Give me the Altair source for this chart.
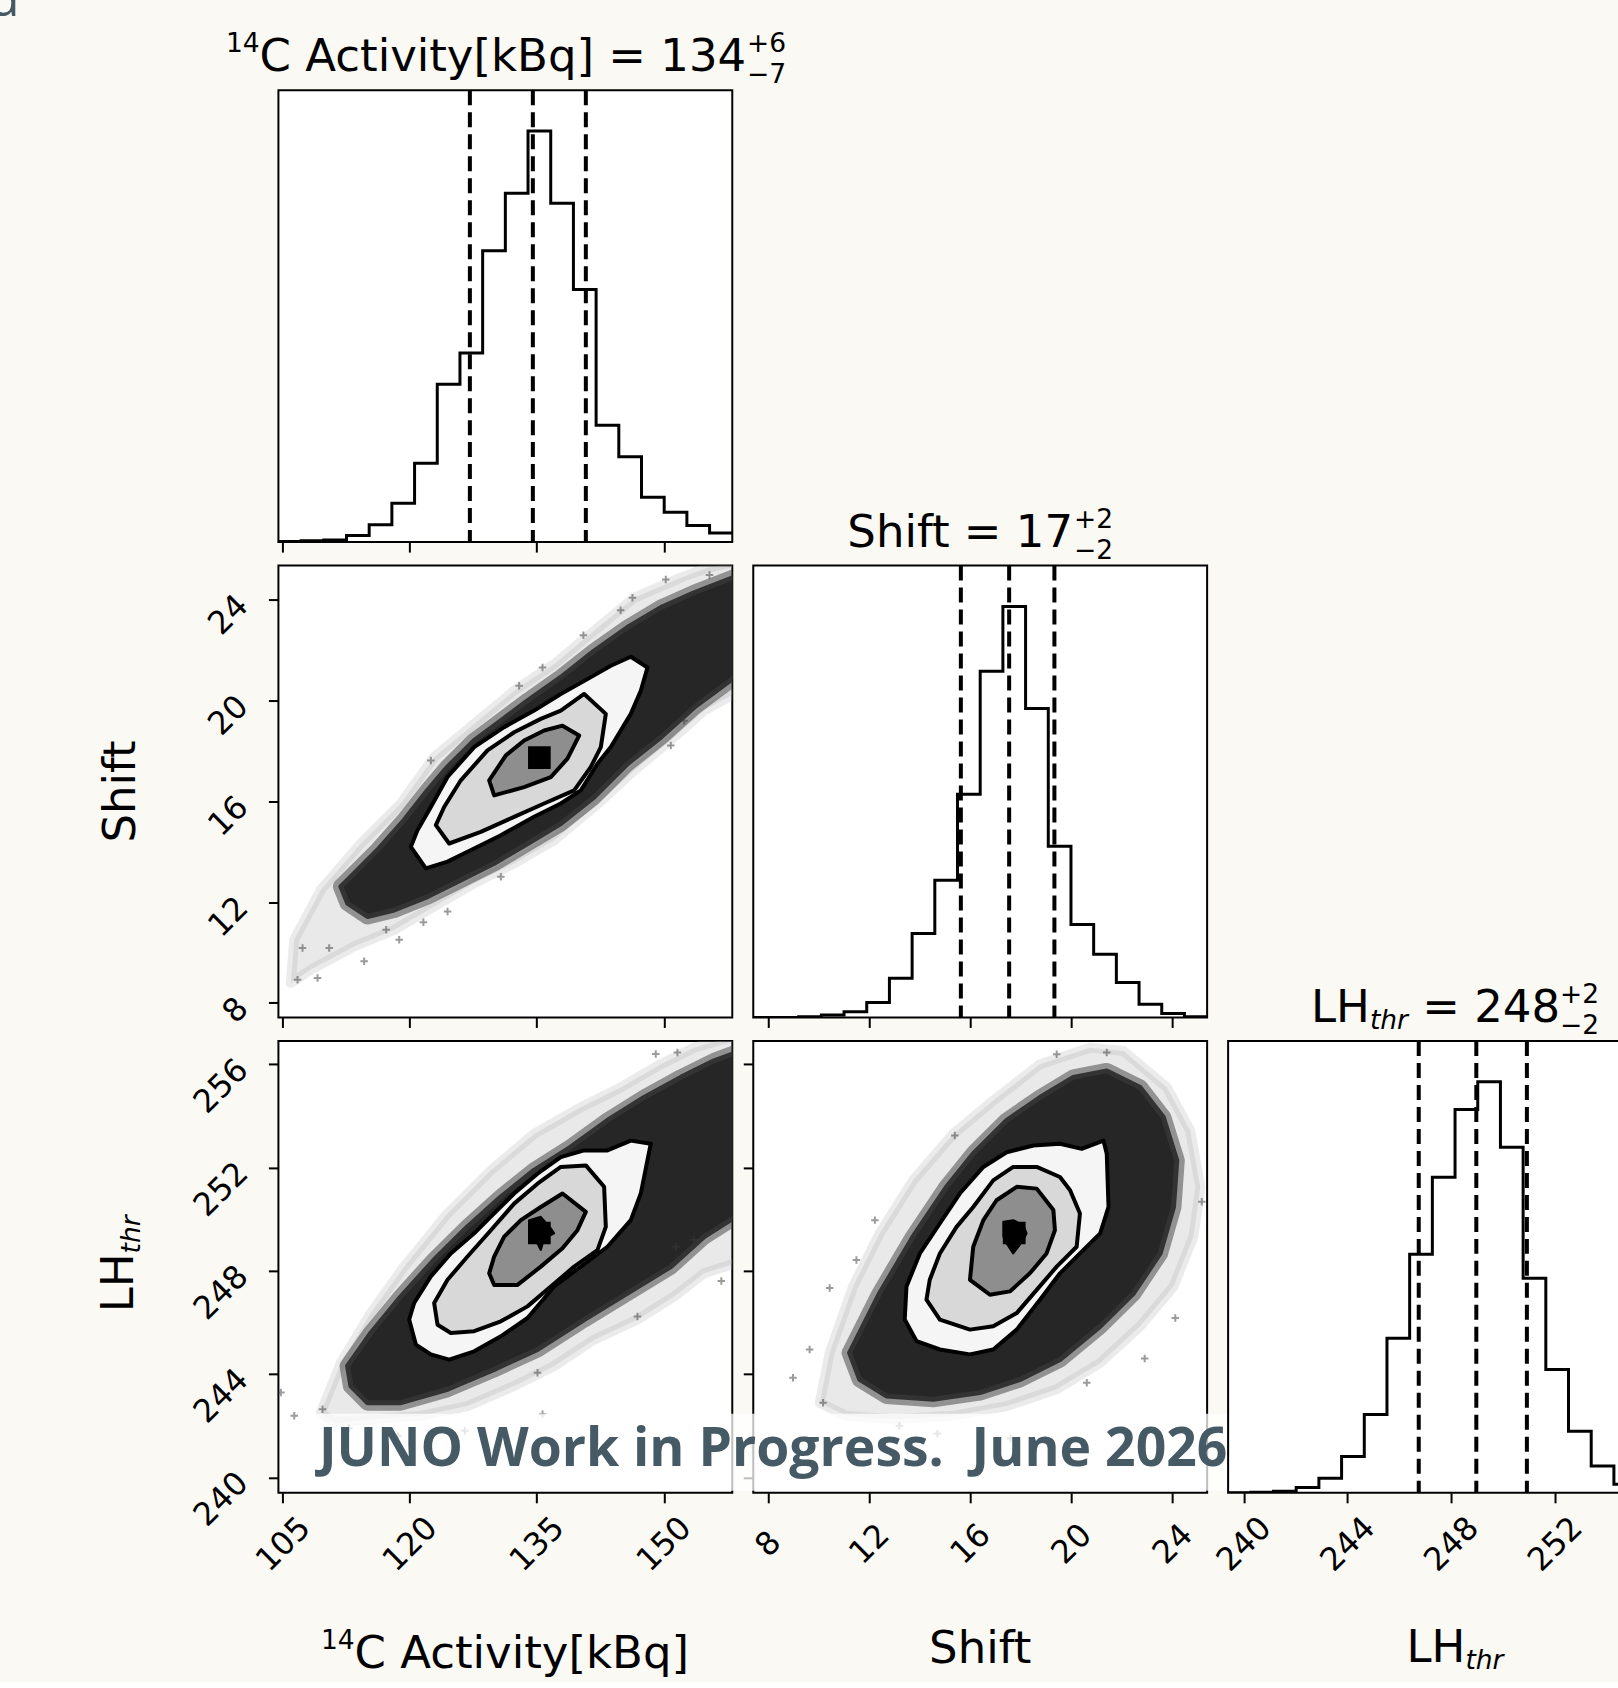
import altair as alt
import numpy as np
import pandas as pd

# ---------------- axis ranges (data units) ----------------
c14_range = [104.47, 158.09]
shift_range = [7.42, 25.37]
lh_range = [239.40, 256.90]

c14_ticks = [105, 120, 135, 150]
shift_ticks = [8, 12, 16, 20, 24]
lh_ticks = [240, 244, 248, 252, 256]
lh_xticks = [240, 244, 248, 252]

# ---------------- 1D histograms (20 bins across each range) ----------------
c14_counts = [2, 4, 6, 20, 52, 117, 237, 475, 569, 877, 1050, 1237, 1020, 760, 352, 257, 135, 90, 50, 27]
shift_counts = [0, 0, 2, 7, 17, 45, 118, 253, 413, 672, 1042, 1237, 930, 515, 280, 190, 105, 40, 12, 2]
lh_counts = [0, 2, 5, 16, 44, 109, 236, 465, 718, 950, 1154, 1237, 1040, 646, 371, 185, 81, 26, 8, 2]
hist_top = 1360

c14_q = [127.09, 134.53, 140.79]
shift_q = [15.63, 17.54, 19.33]
lh_q = [246.75, 248.97, 250.92]

# ---------------- panel A : Shift vs 14C ----------------
a_halo_x = [106.34, 109.49, 114.21, 118.94, 122.87, 127.60, 132.32, 137.05, 141.77, 146.50, 152.00, 155.16, 159.50, 159.50, 154.76, 151.22, 146.50, 141.77, 137.05, 132.32, 127.60, 122.87, 118.15, 113.42, 108.31, 105.94]
a_halo_y = [10.51, 12.49, 14.33, 15.92, 17.76, 19.08, 20.40, 21.46, 22.78, 24.09, 24.89, 25.28, 25.60, 20.50, 19.61, 18.55, 17.23, 15.78, 14.46, 13.54, 12.75, 11.83, 10.90, 10.24, 9.32, 8.79]
a_core_x = [112.64, 116.18, 119.33, 122.09, 124.45, 127.60, 130.75, 133.90, 137.83, 141.77, 145.71, 149.65, 153.58, 159.00, 159.00, 153.58, 149.65, 145.71, 141.77, 137.83, 133.90, 129.96, 126.02, 122.09, 118.15, 115.00, 112.64, 111.85]
a_core_y = [12.88, 14.07, 15.26, 16.44, 17.37, 18.42, 19.21, 20.00, 20.93, 21.98, 22.91, 23.70, 24.29, 25.00, 21.10, 19.74, 18.55, 17.50, 16.18, 15.12, 14.33, 13.54, 12.88, 12.22, 11.69, 11.43, 11.96, 12.62]
a_pts_x = [146.30, 150.23, 135.67, 132.91, 122.48, 150.83, 152.40, 130.75, 124.45, 118.74, 114.60, 109.09, 106.73, 110.47, 107.32, 140.50, 144.90, 117.20, 121.60, 155.40]
a_pts_y = [24.09, 24.82, 21.32, 20.60, 17.63, 18.22, 19.21, 13.01, 11.63, 10.51, 9.65, 8.99, 8.92, 10.18, 10.18, 22.60, 23.60, 10.90, 11.20, 25.00]
a_c1_x = [120.12, 121.89, 124.45, 126.81, 130.75, 134.68, 137.83, 140.20, 142.16, 143.74, 146.10, 147.28, 148.07, 146.10, 143.74, 140.98, 137.83, 134.68, 131.14, 127.60, 124.45, 122.48, 120.90]
a_c1_y = [14.20, 13.34, 13.61, 14.00, 14.66, 15.39, 15.92, 16.44, 17.50, 18.16, 19.48, 20.40, 21.32, 21.75, 21.39, 20.86, 20.27, 19.61, 18.95, 18.16, 16.97, 15.78, 14.86]
a_c2_x = [123.07, 124.64, 128.38, 132.32, 135.86, 139.41, 141.38, 142.56, 143.15, 140.59, 137.83, 135.47, 132.32, 129.17, 126.02, 124.05]
a_c2_y = [15.06, 14.33, 14.79, 15.39, 15.92, 16.44, 17.37, 18.16, 19.48, 20.27, 19.61, 19.28, 18.75, 18.03, 16.84, 15.78]
a_c3_x = [129.37, 129.96, 133.50, 136.65, 138.62, 140.00, 138.03, 135.87, 133.50, 131.34]
a_c3_y = [16.84, 16.24, 16.57, 16.97, 17.70, 18.62, 19.01, 18.82, 18.42, 17.83]
a_peak = {"x": [133.96], "x2": [136.64], "y": [17.29], "y2": [18.19]}

# ---------------- panel B : LH_thr vs 14C ----------------
b_halo_x = [109.49, 111.85, 115.39, 119.33, 124.45, 129.57, 134.68, 140.20, 144.92, 149.65, 153.58, 159.50, 159.50, 154.76, 151.22, 146.89, 141.77, 137.05, 132.32, 126.81, 121.30, 115.79, 111.06]
b_halo_y = [242.51, 244.43, 246.36, 248.16, 250.22, 251.89, 253.30, 254.33, 255.10, 256.00, 256.64, 257.20, 248.40, 247.90, 247.00, 246.11, 245.33, 244.31, 243.54, 242.76, 242.38, 242.25, 242.12]
b_core_x = [112.64, 115.39, 118.94, 122.87, 126.81, 130.75, 134.68, 139.01, 143.34, 147.68, 152.01, 155.94, 159.00, 159.00, 154.76, 150.83, 145.71, 140.59, 135.08, 129.96, 124.45, 118.94, 115.00, 113.03]
b_core_y = [244.31, 245.59, 247.00, 248.42, 249.70, 250.86, 251.89, 252.79, 253.82, 254.71, 255.49, 256.13, 256.50, 250.20, 249.32, 248.16, 247.13, 246.11, 244.95, 244.18, 243.41, 242.89, 242.89, 243.54]
b_pts_x = [109.68, 104.76, 135.67, 146.89, 151.42, 153.58, 149.05, 151.61, 135.08, 106.34, 112.80, 126.50, 118.60, 156.80]
b_pts_y = [242.64, 243.28, 242.44, 246.23, 248.93, 249.19, 256.39, 256.45, 244.05, 242.38, 241.90, 241.80, 241.60, 247.60]
b_c1_x = [119.92, 120.71, 122.48, 124.64, 127.60, 130.75, 133.90, 137.05, 140.20, 143.34, 146.10, 147.28, 148.46, 146.10, 143.34, 140.59, 137.83, 135.08, 132.32, 129.96, 127.60, 124.84, 122.48, 120.51]
b_c1_y = [246.11, 245.14, 244.76, 244.56, 244.88, 245.46, 246.17, 247.39, 248.16, 248.93, 249.96, 250.99, 252.92, 253.04, 252.66, 252.66, 252.40, 251.76, 250.99, 250.22, 249.45, 248.67, 247.78, 246.75]
b_c2_x = [122.87, 123.27, 124.84, 127.60, 130.75, 133.90, 136.65, 139.41, 142.16, 143.15, 142.95, 140.79, 137.83, 135.08, 132.32, 129.57, 126.81, 124.45]
b_c2_y = [246.75, 245.91, 245.59, 245.66, 246.04, 246.62, 247.39, 248.16, 248.80, 249.70, 251.25, 252.08, 252.02, 251.37, 250.60, 249.57, 248.55, 247.65]
b_c3_x = [129.37, 129.96, 132.72, 135.47, 138.03, 139.80, 140.79, 138.03, 135.47, 133.11, 131.14, 129.96]
b_c3_y = [247.90, 247.45, 247.45, 248.16, 248.87, 249.57, 250.28, 250.99, 250.47, 249.96, 249.32, 248.55]
b_star_x = [134.09, 135.47, 136.65, 137.05, 135.87, 135.47, 134.88, 134.09]
b_star_y = [249.96, 250.09, 249.64, 249.45, 249.25, 248.80, 249.19, 249.32]
b_peak = {"x": [133.96], "x2": [136.64], "y": [249.03], "y2": [249.90]}

# ---------------- panel C : LH_thr vs Shift ----------------
c_halo_x = [10.05, 10.44, 11.37, 12.42, 13.74, 15.33, 16.91, 18.76, 20.74, 22.06, 23.78, 24.70, 25.10, 24.83, 24.04, 22.72, 21.14, 19.42, 17.44, 15.33, 12.95, 11.10]
c_halo_y = [242.89, 244.82, 247.39, 249.45, 251.50, 253.30, 254.59, 256.00, 256.64, 256.51, 255.10, 253.43, 251.24, 249.32, 247.39, 245.85, 244.43, 243.41, 242.76, 242.38, 242.25, 242.38]
c_core_x = [11.23, 12.42, 13.74, 15.06, 16.12, 17.44, 18.76, 20.08, 21.40, 22.72, 23.64, 24.17, 24.04, 23.51, 22.46, 21.14, 19.55, 17.97, 16.38, 14.54, 12.69, 11.63]
c_core_y = [244.82, 247.13, 249.32, 251.24, 252.53, 253.82, 254.71, 255.49, 255.74, 255.10, 253.94, 252.27, 250.47, 248.67, 247.13, 245.85, 244.56, 243.79, 243.28, 243.02, 243.15, 243.79]
c_pts_x = [15.39, 19.42, 21.40, 12.23, 11.50, 10.44, 25.16, 24.11, 20.61, 10.18, 9.65, 8.99, 13.20, 22.90, 14.70, 17.60]
c_pts_y = [253.24, 256.38, 256.45, 249.96, 248.42, 247.33, 250.67, 246.17, 243.66, 242.89, 244.95, 243.86, 242.00, 244.60, 241.70, 241.50]
c_c1_x = [13.41, 13.88, 14.80, 15.99, 16.91, 17.84, 18.76, 19.55, 20.34, 21.14, 21.47, 21.40, 21.27, 20.41, 19.55, 18.50, 17.44, 16.52, 15.59, 14.80, 14.01, 13.48]
c_c1_y = [246.11, 245.27, 244.95, 244.76, 244.95, 245.72, 246.88, 247.90, 248.67, 249.45, 250.47, 252.53, 253.04, 252.72, 252.92, 252.85, 252.59, 252.02, 250.99, 249.83, 248.67, 247.39]
c_c2_x = [14.27, 14.80, 15.99, 16.91, 17.84, 18.63, 19.42, 20.21, 20.34, 19.95, 19.55, 18.63, 17.70, 16.91, 16.12, 15.46, 14.80, 14.40]
c_c2_y = [246.88, 246.11, 245.72, 245.85, 246.36, 247.26, 248.16, 248.93, 250.22, 251.12, 251.63, 252.02, 252.02, 251.50, 250.47, 249.70, 248.67, 247.65]
c_c3_x = [15.99, 16.78, 17.57, 18.36, 19.02, 19.35, 19.29, 18.63, 17.84, 17.04, 16.52, 16.12]
c_c3_y = [247.65, 247.07, 247.20, 247.90, 248.67, 249.57, 250.35, 251.18, 251.25, 250.73, 249.96, 248.93]
c_star_x = [17.31, 17.70, 18.10, 18.23, 18.10, 17.70, 17.44, 17.31]
c_star_y = [249.90, 249.96, 249.77, 249.45, 249.19, 248.67, 249.06, 249.32]
c_peak = {"x": [17.29], "x2": [18.19], "y": [249.03], "y2": [249.90]}

# ---------------- styling ----------------
W, H = 454, 452
FONT = "DejaVu Sans"
BG = "#FAF9F4"
SLATE = "#455A64"
TS = 45
SS = 26.5
LS = 32
MINUS = "\u2212"


def sc(rng):
    return alt.Scale(domain=rng, nice=False, zero=False)


def xaxis(ticks, labels):
    return alt.Axis(values=ticks, labels=labels, title=None, labelAngle=315,
                    labelAlign="center", labelBaseline="middle", labelPadding=41,
                    labelFont=FONT, labelFontSize=LS, labelColor="black",
                    tickSize=10, tickWidth=2, tickColor="black", domain=False, grid=False,
                    labelOverlap=False, labelFlush=False)


def yaxis(ticks, labels):
    return alt.Axis(values=ticks, labels=labels, title=None, labelAngle=315,
                    labelAlign="right", labelBaseline="middle", labelPadding=26,
                    labelFont=FONT, labelFontSize=LS, labelColor="black",
                    tickSize=10, tickWidth=2, tickColor="black", domain=False, grid=False,
                    labelOverlap=False, labelFlush=False)


def txt(s, x, y, size=TS, align="left", angle=0, style="normal", weight="normal",
        color="black", font=FONT):
    kw = dict(align=align, baseline="alphabetic", fontSize=size, font=font,
              fontStyle=style, fontWeight=weight, color=color)
    if angle:
        kw["angle"] = angle
    return alt.Chart(pd.DataFrame({"t": [s]})).mark_text(**kw).encode(
        text="t:N", x=alt.value(x), y=alt.value(y))


def hist_panel(counts, rng, quants, ticks, show_labels, extra):
    edges = np.linspace(rng[0], rng[1], len(counts) + 1)
    df = pd.DataFrame({"x": edges, "y": list(counts) + [counts[-1]]})
    X = alt.X("x:Q", scale=sc(rng), axis=xaxis(ticks, show_labels))
    Y = alt.Y("y:Q", scale=alt.Scale(domain=[0, hist_top], nice=False, zero=False), axis=None)
    line = alt.Chart(df).mark_line(interpolate="step-after", color="black",
                                   strokeWidth=3, clip=True).encode(x=X, y=Y)
    q = alt.Chart(pd.DataFrame({"x": quants})).mark_rule(
        color="black", strokeWidth=4, strokeDash=[15, 7]).encode(x=X)
    return alt.layer(line, q, *extra).properties(width=W, height=H)


def poly(xv, yv, X, Y, fill, stroke, sw, fill_opacity=1.0, stroke_opacity=1.0):
    df = pd.DataFrame({"x": xv, "y": yv, "i": np.arange(len(xv))})
    return alt.Chart(df).mark_line(
        interpolate="linear-closed", fill=fill, fillOpacity=fill_opacity,
        stroke=stroke, strokeWidth=sw, strokeOpacity=stroke_opacity,
        strokeJoin="round", clip=True
    ).encode(x=X, y=Y, order="i:Q")


def scatter_panel(xr, yr, xt, yt, xlab, ylab, halo, core, pts, c1, c2, c3, peak,
                  star=None, extra=()):
    X = alt.X("x:Q", scale=sc(xr), axis=xaxis(xt, xlab))
    Y = alt.Y("y:Q", scale=sc(yr), axis=yaxis(yt, ylab))
    layers = [
        poly(halo[0], halo[1], X, Y, "#9a9a9a", "#b0b0b0", 10, 0.22, 0.25),
        poly(core[0], core[1], X, Y, "#2a2a2a", "#4a4a4a", 16, 1.0, 0.55),
        poly(core[0], core[1], X, Y, "#262626", "#333333", 5),
        alt.Chart(pd.DataFrame({"x": pts[0], "y": pts[1]})).mark_point(
            shape="M-1,0L1,0M0,-1L0,1", size=56, filled=False, color="#3a3a3a",
            strokeWidth=2, opacity=0.5, clip=True).encode(x=X, y=Y),
        poly(c1[0], c1[1], X, Y, "#f5f5f5", "black", 4),
        poly(c2[0], c2[1], X, Y, "#d8d8d8", "black", 4),
        poly(c3[0], c3[1], X, Y, "#8e8e8e", "black", 4),
        alt.Chart(pd.DataFrame(peak)).mark_rect(color="black", clip=True).encode(
            x=X, x2="x2:Q", y=Y, y2="y2:Q"),
    ]
    if star is not None:
        layers.append(poly(star[0], star[1], X, Y, "black", "black", 2))
    layers.extend(extra)
    return alt.layer(*layers).properties(width=W, height=H)


def blank():
    return alt.Chart(pd.DataFrame({"x": [0]})).mark_point(opacity=0).encode(
        x=alt.X("x:Q", axis=None), y=alt.Y("x:Q", axis=None)
    ).properties(width=W, height=H,
                 view=alt.ViewBackground(stroke="transparent", fill="transparent"))


# ---------------- panels ----------------
p11 = hist_panel(c14_counts, c14_range, c14_q, c14_ticks, False, [
    txt("d", -289.5, -74, size=50, color=SLATE, font="Open Sans"),
    txt("14", -18.8, -38, size=SS, align="right"),
    txt("C Activity[kBq] = 134", -18.8, -19),
    txt("+6", 468.8, -38, size=SS),
    txt(MINUS + "7", 468.8, -7, size=SS),
])

p21 = scatter_panel(c14_range, shift_range, c14_ticks, shift_ticks, False, True,
                    (a_halo_x, a_halo_y), (a_core_x, a_core_y), (a_pts_x, a_pts_y),
                    (a_c1_x, a_c1_y), (a_c2_x, a_c2_y), (a_c3_x, a_c3_y), a_peak,
                    extra=[txt("Shift", -143.5, 226, align="center", angle=270)])

p22 = hist_panel(shift_counts, shift_range, shift_q, shift_ticks, False, [
    txt("Shift = 17", 94.1, -19),
    txt("+2", 320.8, -38, size=SS),
    txt(MINUS + "2", 320.8, -7, size=SS),
])

p31 = scatter_panel(c14_range, lh_range, c14_ticks, lh_ticks, True, True,
                    (b_halo_x, b_halo_y), (b_core_x, b_core_y), (b_pts_x, b_pts_y),
                    (b_c1_x, b_c1_y), (b_c2_x, b_c2_y), (b_c3_x, b_c3_y), b_peak,
                    star=(b_star_x, b_star_y),
                    extra=[
                        txt("LH", -145.7, 271.5, angle=270),
                        txt("thr", -138.7, 212.6, size=SS, angle=270, style="italic"),
                        txt("14", 76.2, 608, size=SS, align="right"),
                        txt("C Activity[kBq]", 76.2, 627),
                    ])

wm_box = alt.Chart(pd.DataFrame({"a": [0]})).mark_rect(fill="white", opacity=0.75).encode(
    x=alt.value(-442.5), x2=alt.value(477.5), y=alt.value(373), y2=alt.value(450))

p32 = scatter_panel(shift_range, lh_range, shift_ticks, lh_ticks, True, False,
                    (c_halo_x, c_halo_y), (c_core_x, c_core_y), (c_pts_x, c_pts_y),
                    (c_c1_x, c_c1_y), (c_c2_x, c_c2_y), (c_c3_x, c_c3_y), c_peak,
                    star=(c_star_x, c_star_y),
                    extra=[
                        txt("Shift", 227, 622, align="center"),
                        wm_box,
                        txt("JUNO Work in Progress.\u00a0 June 2026", -434.5, 425, size=53.5,
                            weight="bold", color=SLATE, font="Open Sans"),
                    ])

p33 = hist_panel(lh_counts, lh_range, lh_q, lh_xticks, True, [
    txt("LH", 82.9, -19),
    txt("thr", 141.8, -12, size=SS, style="italic"),
    txt("= 248", 194.2, -19),
    txt("+2", 332.1, -38, size=SS),
    txt(MINUS + "2", 332.1, -7, size=SS),
    txt("LH", 178.5, 621),
    txt("thr", 237.4, 628, size=SS, style="italic"),
])

chart = alt.concat(
    p11, blank(), blank(),
    p21, p22, blank(),
    p31, p32, p33,
    columns=3, spacing={"row": 23.5, "column": 21}, bounds="flush",
).properties(
    padding={"left": -12.5, "top": -25, "right": -65, "bottom": 4},
    background=BG,
).configure_view(
    stroke="black", strokeWidth=2, fill="white"
).configure_axis(
    grid=False, domain=False, ticks=True, tickColor="black", tickWidth=2, tickSize=10,
    labelFont=FONT, labelFontSize=LS, labelColor="black", labelOverlap=False, labelFlush=False,
)

chart.save("out.html", embed_options={"renderer": "svg", "actions": False})
